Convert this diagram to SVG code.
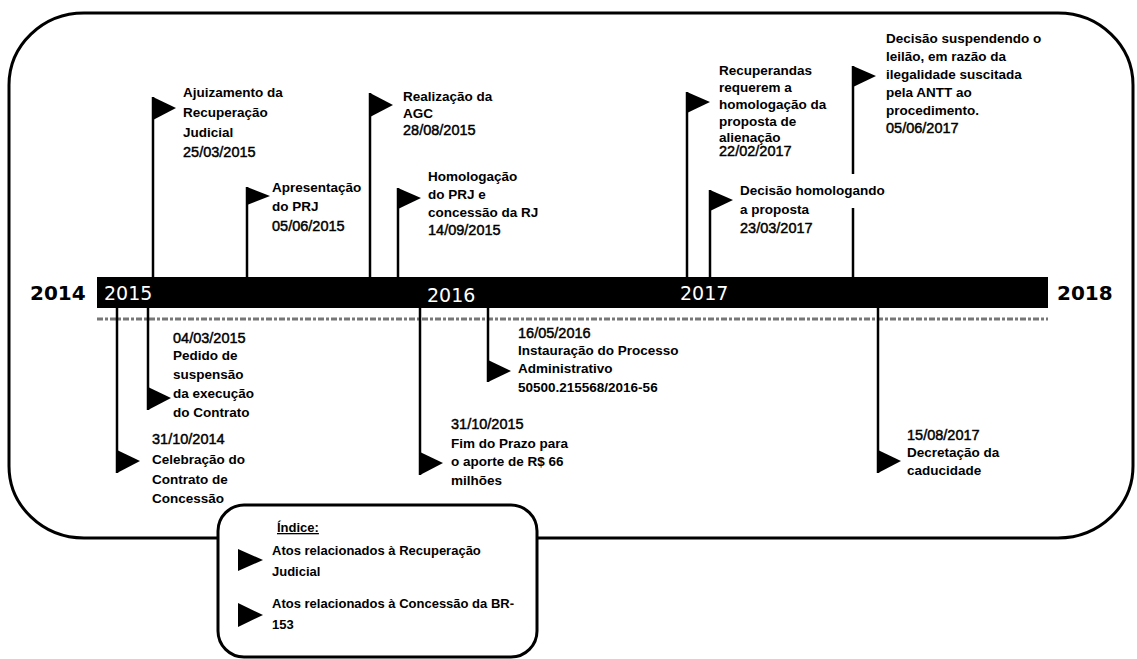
<svg xmlns="http://www.w3.org/2000/svg" width="1137" height="659" viewBox="0 0 1137 659">
<style>
.t{font-family:"Liberation Sans",Arial,sans-serif;font-size:13.5px;font-weight:bold;fill:#000}
.d{font-family:"Liberation Sans",Arial,sans-serif;font-size:14.5px;font-weight:normal;fill:#000;stroke:#000;stroke-width:0.45}
.lg{font-family:"Liberation Sans",Arial,sans-serif;font-size:13px;font-weight:bold;fill:#000}
.yo{font-family:"DejaVu Sans",sans-serif;font-size:20px;font-weight:bold;fill:#000}
.yi{font-family:"DejaVu Sans",sans-serif;font-size:19px;font-weight:normal;fill:#fff}
.pole{stroke:#000;stroke-width:2.5;fill:none}
.flag{fill:#000}
</style>
<rect width="1137" height="659" fill="#fff"/>
<rect id="frame" x="9" y="13" width="1124" height="525" rx="75" ry="72" fill="none" stroke="#000" stroke-width="3"/>

<g id="timeline">
<rect x="97" y="277" width="951" height="31" fill="#000"/>
<line x1="97" y1="319" x2="1048" y2="319" stroke="#777" stroke-width="3" stroke-dasharray="6 2 3 2"/>
<text class="yo" x="30" y="300">2014</text>
<text class="yi" x="104" y="300">2015</text>
<text class="yi" x="427" y="302">2016</text>
<text class="yi" x="680" y="300">2017</text>
<text class="yo" x="1057" y="300">2018</text>
</g>

<g id="connectors">
<line class="pole" x1="153" y1="97" x2="153" y2="278"/>
<line class="pole" x1="247" y1="187" x2="247" y2="278"/>
<line class="pole" x1="370" y1="93" x2="370" y2="278"/>
<line class="pole" x1="398" y1="188" x2="398" y2="278"/>
<line class="pole" x1="687" y1="92" x2="687" y2="278"/>
<line class="pole" x1="710" y1="190" x2="710" y2="278"/>
<line class="pole" x1="853" y1="66" x2="853" y2="174"/>
<line class="pole" x1="853" y1="208" x2="853" y2="278"/>
<line class="pole" x1="117" y1="308" x2="117" y2="473"/>
<line class="pole" x1="148" y1="308" x2="148" y2="410"/>
<line class="pole" x1="420" y1="308" x2="420" y2="475"/>
<line class="pole" x1="488" y1="308" x2="488" y2="382"/>
<line class="pole" x1="878" y1="308" x2="878" y2="473"/>
</g>

<g id="n-ajuizamento">
<polygon class="flag" points="153,97 176,108 153,120"/>
<text class="t" x="183" y="97">Ajuizamento da</text>
<text class="t" x="183" y="117">Recuperação</text>
<text class="t" x="183" y="137">Judicial</text>
<text class="d" x="183" y="157">25/03/2015</text>
</g>
<g id="n-apresentacao">
<polygon class="flag" points="247,187 270,196 247,205"/>
<text class="t" x="272" y="192">Apresentação</text>
<text class="t" x="272" y="211">do PRJ</text>
<text class="d" x="272" y="231">05/06/2015</text>
</g>
<g id="n-agc">
<polygon class="flag" points="370,93 393,105 370,117"/>
<text class="t" x="403" y="101">Realização da</text>
<text class="t" x="403" y="118">AGC</text>
<text class="d" x="403" y="135">28/08/2015</text>
</g>
<g id="n-homologacao">
<polygon class="flag" points="398,188 421,198 398,209"/>
<text class="t" x="428" y="181">Homologação</text>
<text class="t" x="428" y="199">do PRJ e</text>
<text class="t" x="428" y="217">concessão da RJ</text>
<text class="d" x="428" y="235">14/09/2015</text>
</g>
<g id="n-recuperandas">
<polygon class="flag" points="687,92 710,102 687,113"/>
<text class="t" x="719" y="75">Recuperandas</text>
<text class="t" x="719" y="92">requerem a</text>
<text class="t" x="719" y="109">homologação da</text>
<text class="t" x="719" y="126">proposta de</text>
<text class="t" x="719" y="142">alienação</text>
<text class="d" x="719" y="156">22/02/2017</text>
</g>
<g id="n-decisao-homologando">
<polygon class="flag" points="710,190 733,200 710,211"/>
<text class="t" x="740" y="195">Decisão homologando</text>
<text class="t" x="740" y="214">a proposta</text>
<text class="d" x="740" y="233">23/03/2017</text>
</g>
<g id="n-decisao-suspendendo">
<polygon class="flag" points="853,66 876,76 853,87"/>
<text class="t" x="886" y="43">Decisão suspendendo o</text>
<text class="t" x="886" y="61">leilão, em razão da</text>
<text class="t" x="886" y="79">ilegalidade suscitada</text>
<text class="t" x="886" y="97">pela ANTT ao</text>
<text class="t" x="886" y="115">procedimento.</text>
<text class="d" x="886" y="133">05/06/2017</text>
</g>

<g id="n-celebracao">
<polygon class="flag" points="117,450 140,461 117,473"/>
<text class="d" x="152" y="444">31/10/2014</text>
<text class="t" x="152" y="464">Celebração do</text>
<text class="t" x="152" y="484">Contrato de</text>
<text class="t" x="152" y="503">Concessão</text>
</g>
<g id="n-pedido">
<polygon class="flag" points="148,387 171,398 148,410"/>
<text class="d" x="173" y="343">04/03/2015</text>
<text class="t" x="173" y="360">Pedido de</text>
<text class="t" x="173" y="379">suspensão</text>
<text class="t" x="173" y="398">da execução</text>
<text class="t" x="173" y="417">do Contrato</text>
</g>
<g id="n-fim-prazo">
<polygon class="flag" points="420,452 443,463 420,475"/>
<text class="d" x="451" y="429">31/10/2015</text>
<text class="t" x="451" y="448">Fim do Prazo para</text>
<text class="t" x="451" y="466">o aporte de R$ 66</text>
<text class="t" x="451" y="485">milhões</text>
</g>
<g id="n-instauracao">
<polygon class="flag" points="488,360 511,371 488,382"/>
<text class="d" x="518" y="338">16/05/2016</text>
<text class="t" x="518" y="355">Instauração do Processo</text>
<text class="t" x="518" y="373">Administrativo</text>
<text class="t" x="518" y="392">50500.215568/2016-56</text>
</g>
<g id="n-decretacao">
<polygon class="flag" points="878,450 901,461 878,473"/>
<text class="d" x="907" y="440">15/08/2017</text>
<text class="t" x="907" y="457">Decretação da</text>
<text class="t" x="907" y="475">caducidade</text>
</g>

<g id="legend">
<rect x="218" y="505" width="319" height="152" rx="26" ry="26" fill="#fff" stroke="#000" stroke-width="3"/>
<text class="lg" x="277" y="532" text-decoration="underline">Índice:</text>
<polygon class="flag" points="238,549 263,560 238,571"/>
<text class="lg" x="272" y="555">Atos relacionados à Recuperação</text>
<text class="lg" x="272" y="576">Judicial</text>
<polygon class="flag" points="238,603 263,615 238,627"/>
<text class="lg" x="272" y="608">Atos relacionados à Concessão da BR-</text>
<text class="lg" x="272" y="629">153</text>
</g>
</svg>
